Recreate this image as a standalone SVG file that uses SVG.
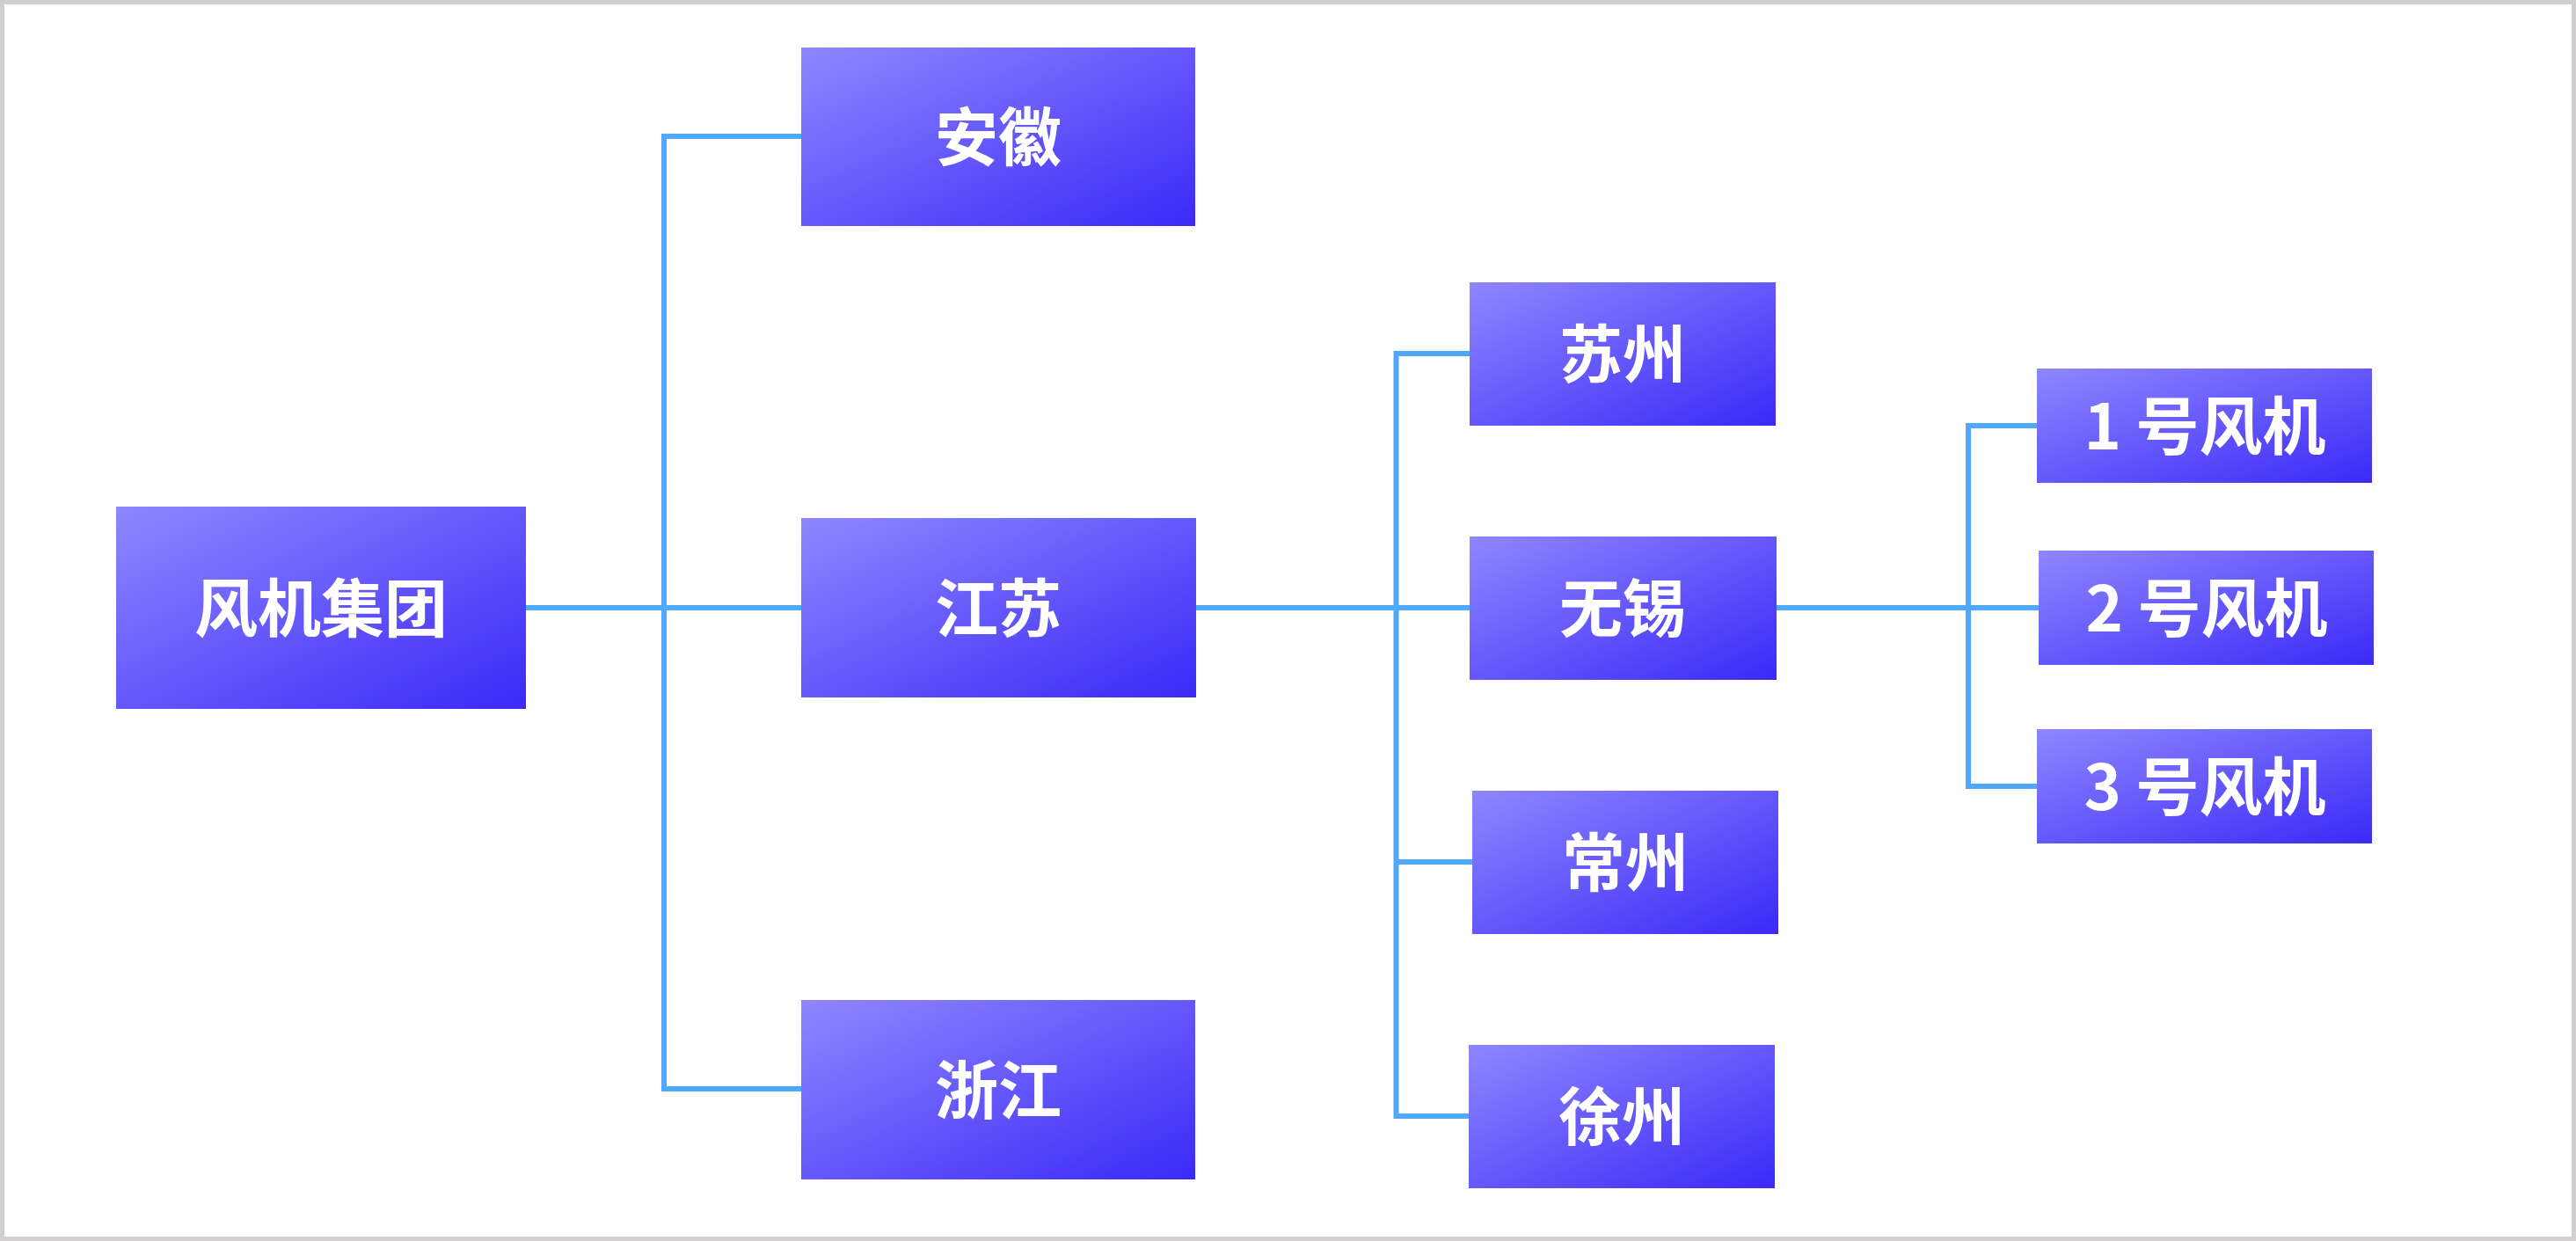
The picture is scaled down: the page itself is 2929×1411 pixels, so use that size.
<svg xmlns="http://www.w3.org/2000/svg" width="2929" height="1411" viewBox="0 0 2929 1411">
  <defs>
    <linearGradient id="g" x1="0" y1="0" x2="1" y2="1">
      <stop offset="0" stop-color="#8e87ff"/>
      <stop offset="1" stop-color="#3b29f7"/>
    </linearGradient>
    <style>
      .box { fill: url(#g); }
      .lbl { fill: #ffffff; font-family: "Noto Sans CJK SC", "Noto Sans", sans-serif; font-weight: 700; font-size: 72px; text-anchor: middle; dominant-baseline: central; }
      .con { fill: none; stroke: #4ea8fc; stroke-width: 6; stroke-linejoin: miter; stroke-linecap: butt; }
    </style>
  </defs>
  <rect x="2.5" y="2.5" width="2924" height="1406" fill="#ffffff" stroke="#d0cece" stroke-width="5"/>

  <g id="connectors">
    <path class="con" d="M598,691 H911"/>
    <path class="con" d="M911,155 H755 V1238 H911"/>
    <path class="con" d="M1360,691 H1671"/>
    <path class="con" d="M1671,402 H1587.5 V1269 H1670"/>
    <path class="con" d="M1587.5,980 H1674"/>
    <path class="con" d="M2020,691 H2318"/>
    <path class="con" d="M2316,484 H2238 V894 H2316"/>
  </g>

  <g id="node-fengjijituan">
    <rect class="box" x="132" y="576" width="466" height="230"/>
    <text class="lbl" x="365" y="686">风机集团</text>
  </g>
  <g id="node-anhui">
    <rect class="box" x="911" y="54" width="448" height="203"/>
    <text class="lbl" x="1135" y="150">安徽</text>
  </g>
  <g id="node-jiangsu">
    <rect class="box" x="911" y="589" width="449" height="204"/>
    <text class="lbl" x="1135" y="686">江苏</text>
  </g>
  <g id="node-zhejiang">
    <rect class="box" x="911" y="1137" width="448" height="204"/>
    <text class="lbl" x="1135" y="1234">浙江</text>
  </g>
  <g id="node-suzhou">
    <rect class="box" x="1671" y="321" width="348" height="163"/>
    <text class="lbl" x="1845" y="397">苏州</text>
  </g>
  <g id="node-wuxi">
    <rect class="box" x="1671" y="610" width="349" height="163"/>
    <text class="lbl" x="1845" y="686">无锡</text>
  </g>
  <g id="node-changzhou">
    <rect class="box" x="1674" y="899" width="348" height="163"/>
    <text class="lbl" x="1848" y="975">常州</text>
  </g>
  <g id="node-xuzhou">
    <rect class="box" x="1670" y="1188" width="348" height="163"/>
    <text class="lbl" x="1844" y="1264">徐州</text>
  </g>
  <g id="node-fj1">
    <rect class="box" x="2316" y="419" width="381" height="130"/>
    <text class="lbl" x="2507" y="479">1 号风机</text>
  </g>
  <g id="node-fj2">
    <rect class="box" x="2318" y="626" width="381" height="130"/>
    <text class="lbl" x="2509" y="686">2 号风机</text>
  </g>
  <g id="node-fj3">
    <rect class="box" x="2316" y="829" width="381" height="130"/>
    <text class="lbl" x="2507" y="889">3 号风机</text>
  </g>
</svg>
